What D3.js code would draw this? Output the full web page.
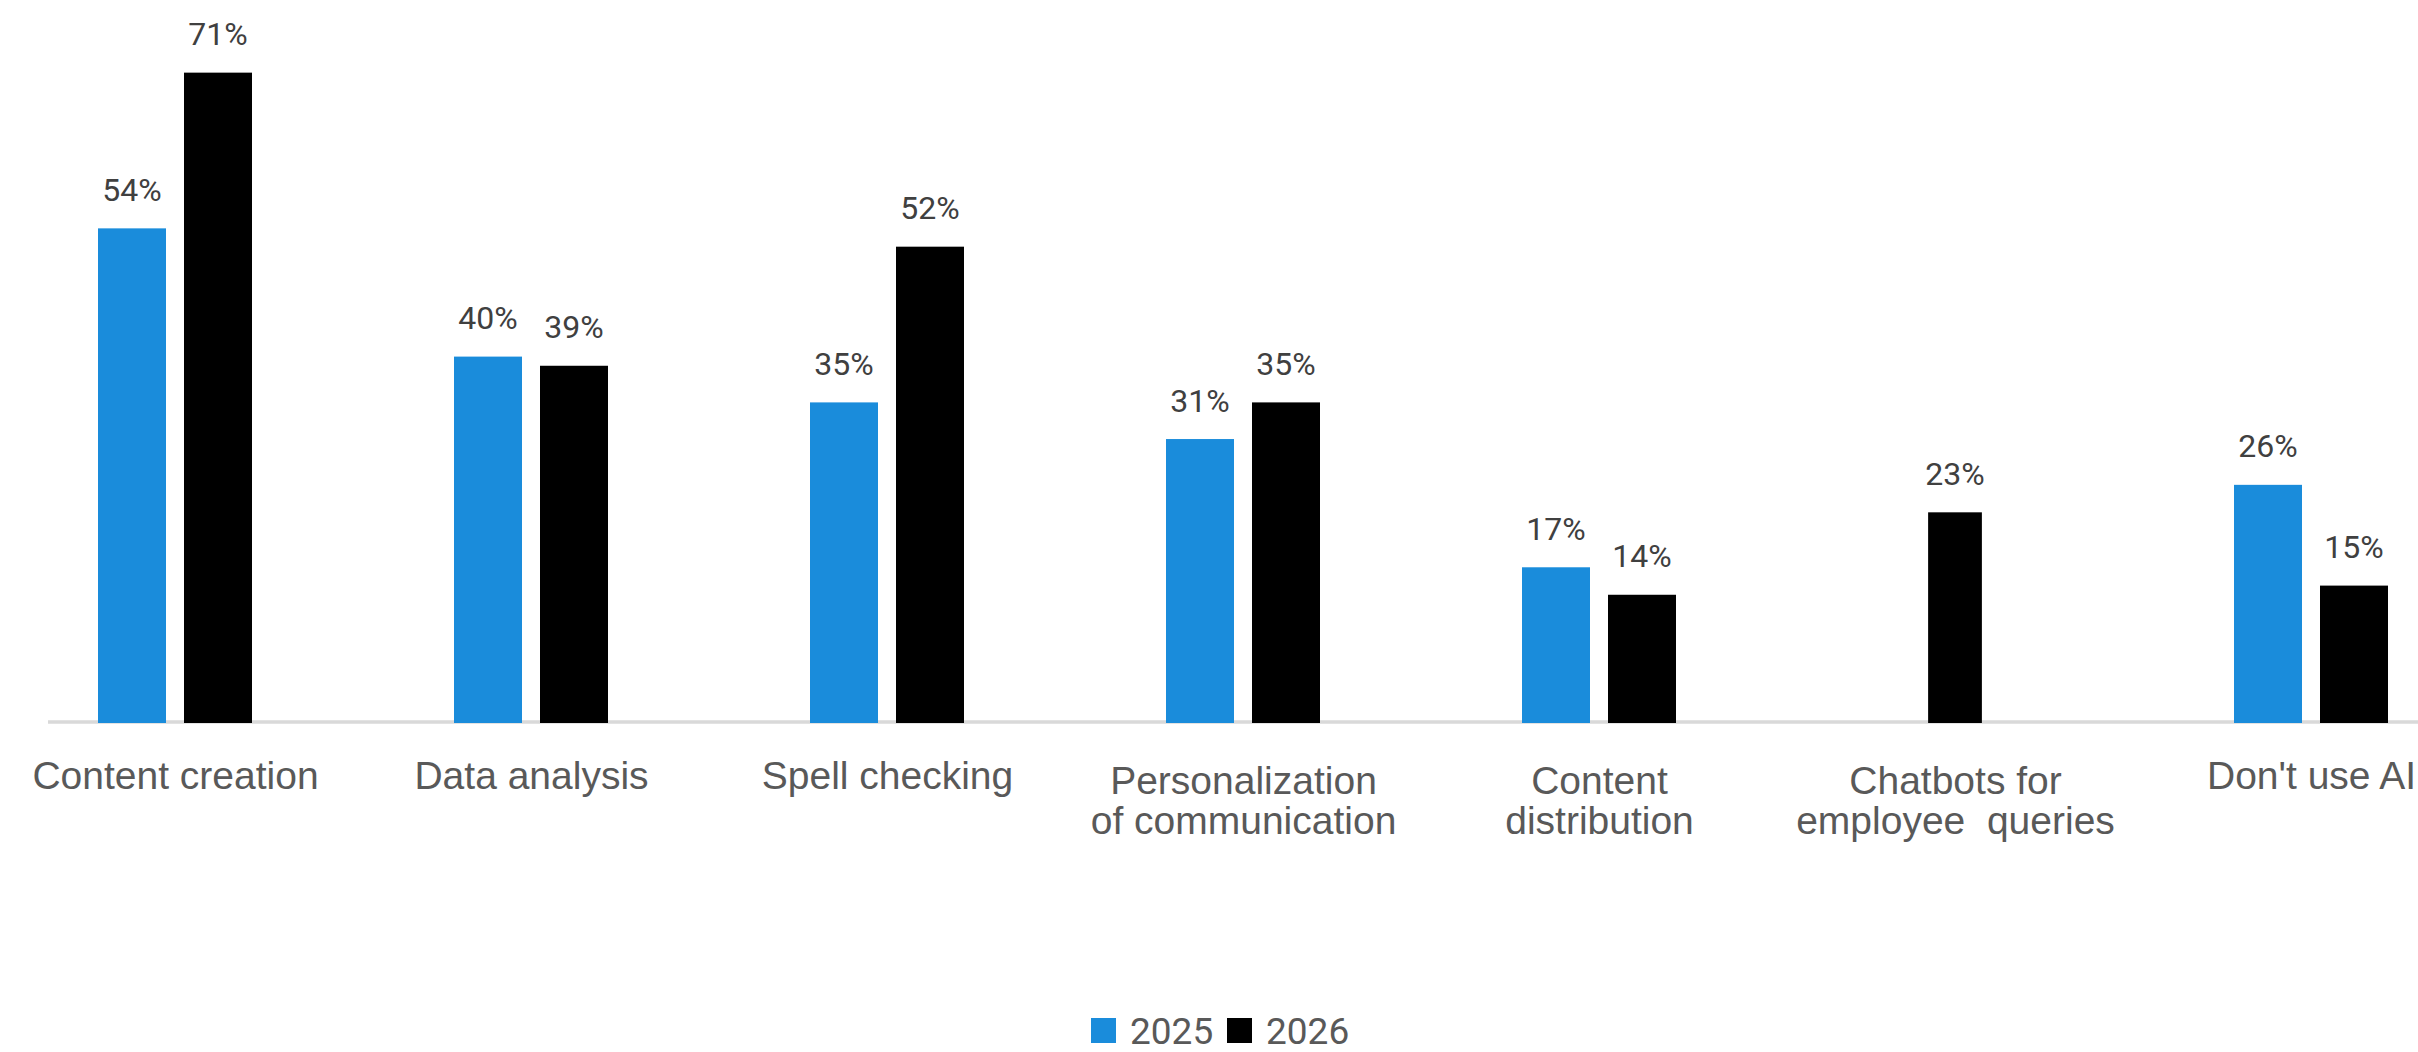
<!DOCTYPE html>
<html>
<head>
<meta charset="utf-8">
<script src="https://cdn.jsdelivr.net/npm/d3@7"></script>
<style>
  html, body { margin: 0; padding: 0; background: #ffffff; overflow: hidden; }
  svg { display: block; font-family: Roboto, "Noto Sans", sans-serif; }
</style>
</head>
<body>
<svg id="chart" width="2418" height="1052"></svg>
<script>
// Uses of AI, share of respondents per year
const categories = [
  "Content creation",
  "Data analysis",
  "Spell checking",
  "Personalization of communication",
  "Content distribution",
  "Chatbots for employee queries",
  "Don't use AI"
];
// Tick labels, one entry per line
const tickLabels = [
  ["Content creation"],
  ["Data analysis"],
  ["Spell checking"],
  ["Personalization", "of communication"],
  ["Content", "distribution"],
  ["Chatbots for", "employee  queries"],
  ["Don't use AI"]
];
const seriesNames = ["2025", "2026"];
const values2025 = [54, 40, 35, 31, 17, null, 26];
const values2026 = [71, 39, 52, 35, 14, 23, 15];
const seriesColors = ["#1a8cdb", "#000000"];

const svg = d3.select("#chart");

const x = d3.scalePoint().domain(categories).range([175, 2311]);
const y = d3.scaleLinear().domain([0, 70]).range([723, 81.8]);
const color = d3.scaleOrdinal().domain(seriesNames).range(seriesColors);

const barW = 68, barGap = 18;
const seriesValues = { "2025": values2025, "2026": values2026 };

// bars per category: only the series that have a value, centred on the category
const rows = categories.map((c, i) => {
  const present = seriesNames.filter(s => seriesValues[s][i] != null);
  const w = present.length * barW + (present.length - 1) * barGap;
  const sub = d3.scaleBand()
    .domain(present)
    .range([x(c) - w / 2, x(c) + w / 2])
    .paddingInner(barGap / (barW + barGap));
  return present.map(s => ({ cat: c, series: s, value: seriesValues[s][i], x: sub(s), w: sub.bandwidth() }));
}).flat();

// baseline
svg.append("line")
  .attr("x1", 48).attr("x2", 2418)
  .attr("y1", y(0) - 1).attr("y2", y(0) - 1)
  .attr("stroke", "#d9d9d9").attr("stroke-width", 3.5);

// bars
svg.append("g").selectAll("rect")
  .data(rows)
  .join("rect")
  .attr("x", d => d.x)
  .attr("width", d => d.w)
  .attr("y", d => y(d.value))
  .attr("height", d => y(0) - y(d.value))
  .attr("fill", d => color(d.series));

// value labels
svg.append("g").selectAll("text")
  .data(rows)
  .join("text")
  .attr("x", d => d.x + d.w / 2)
  .attr("y", d => y(d.value) - 27.5)
  .attr("text-anchor", "middle")
  .attr("font-size", 32)
  .attr("fill", "#404040")
  .text(d => d.value + "%");

// category axis
const xAxis = d3.axisBottom(x).tickSize(0).tickSizeOuter(0).tickFormat(() => "");
const axisG = svg.append("g")
  .attr("transform", `translate(0,${y(0)})`)
  .call(xAxis);
axisG.select(".domain").remove();

axisG.selectAll(".tick").each(function (c) {
  const lines = tickLabels[categories.indexOf(c)];
  const t = d3.select(this).append("text")
    .attr("text-anchor", "middle")
    .attr("font-size", 39)
    .attr("fill", "#595959")
    .style("white-space", "pre")
    .attr("y", lines.length > 1 ? 71 : 66);
  lines.forEach((ln, k) => {
    t.append("tspan").attr("x", 0).attr("dy", k === 0 ? 0 : 40).text(ln);
  });
});

// legend
const legend = svg.append("g").attr("transform", "translate(1091,1018)");
const legendX = [0, 136];
seriesNames.forEach((s, i) => {
  const g = legend.append("g").attr("transform", `translate(${legendX[i]},0)`);
  g.append("rect").attr("width", 25).attr("height", 25).attr("fill", color(s));
  g.append("text")
    .attr("x", 39).attr("y", 26)
    .attr("font-size", 37)
    .attr("fill", "#595959")
    .text(s);
});
</script>
</body>
</html>
